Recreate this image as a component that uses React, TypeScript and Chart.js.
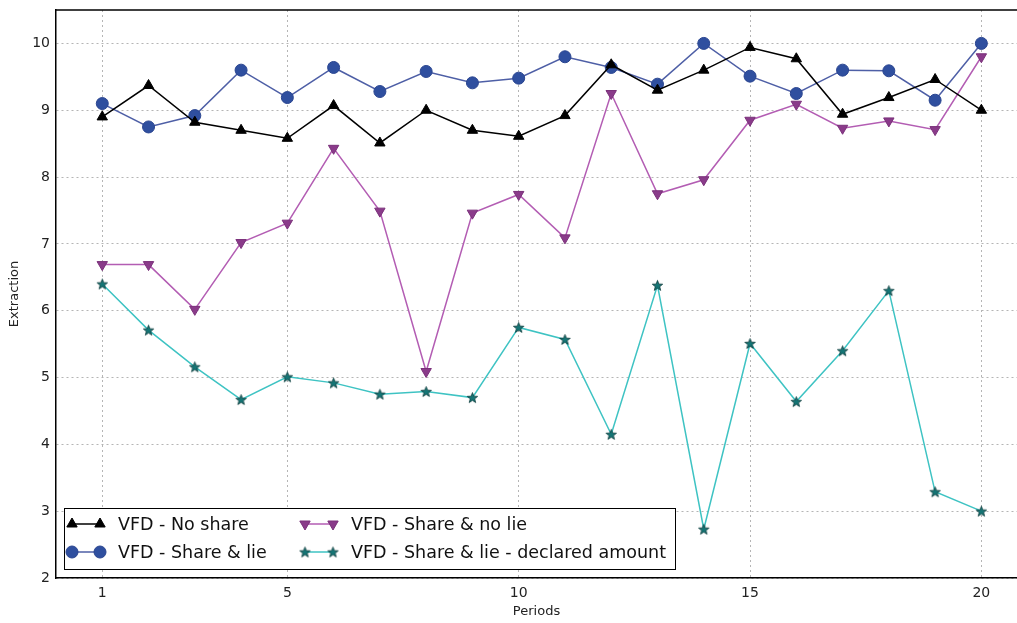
import React, { useEffect, useRef } from "react";
import { Chart, registerables } from "chart.js";
import { drawPoint } from "chart.js/helpers";

Chart.register(...registerables);

// Periods 1..20
const periods = [1, 2, 3, 4, 5, 6, 7, 8, 9, 10, 11, 12, 13, 14, 15, 16, 17, 18, 19, 20];

const noShare = [8.9, 9.37, 8.82, 8.7, 8.58, 9.07, 8.51, 9.0, 8.7, 8.61, 8.92, 9.68, 9.3, 9.6, 9.94, 9.77, 8.94, 9.19, 9.46, 9.0];
const shareLie = [9.1, 8.75, 8.92, 9.6, 9.19, 9.64, 9.28, 9.58, 9.41, 9.48, 9.8, 9.64, 9.39, 10.0, 9.51, 9.25, 9.6, 9.59, 9.15, 10.0];
const shareNoLie = [6.69, 6.69, 6.02, 7.02, 7.31, 8.43, 7.49, 5.09, 7.46, 7.74, 7.09, 9.25, 7.75, 7.96, 8.85, 9.09, 8.73, 8.84, 8.71, 9.8];
const declared = [6.4, 5.71, 5.16, 4.67, 5.01, 4.92, 4.75, 4.79, 4.7, 5.75, 5.57, 4.15, 6.38, 2.73, 5.51, 4.64, 5.4, 6.3, 3.29, 3.0];

const seriesLabels = [
  "VFD - No share",
  "VFD - Share & lie",
  "VFD - Share & no lie",
  "VFD - Share & lie - declared amount",
];

const xTicks = [1, 5, 10, 15, 20];
const yTicks = [2, 3, 4, 5, 6, 7, 8, 9, 10];

const FONT = "'DejaVu Sans', 'Liberation Sans', sans-serif";

// the plot runs on past the right edge of the visible frame
const VIEW_W = 1017;
const CANVAS_W = 1024;
const CANVAS_H = 623;

function makeStar(fill: string, edge: string): HTMLCanvasElement {
  const size = 13;
  const c = document.createElement("canvas");
  c.width = size;
  c.height = size;
  const g = c.getContext("2d")!;
  const cx = size / 2;
  const cy = size / 2 + 0.5;
  const outer = 5.5;
  const inner = 2.3;
  g.beginPath();
  for (let i = 0; i < 10; i++) {
    const r = i % 2 === 0 ? outer : inner;
    const a = -Math.PI / 2 + (i * Math.PI) / 5;
    const px = cx + r * Math.cos(a);
    const py = cy + r * Math.sin(a);
    if (i === 0) g.moveTo(px, py);
    else g.lineTo(px, py);
  }
  g.closePath();
  g.fillStyle = fill;
  g.fill();
  g.lineWidth = 0.8;
  g.strokeStyle = edge;
  g.stroke();
  return c;
}

const toPoints = (vals: number[]) => periods.map((p, i) => ({ x: p, y: vals[i] }));

const noEdgePadding = (scale: any) => {
  scale.paddingLeft = 0;
  scale.paddingRight = 0;
  scale.paddingTop = 0;
  scale.paddingBottom = 0;
};

export default function App() {
  const ref = useRef<HTMLCanvasElement | null>(null);

  useEffect(() => {
    document.body.style.margin = "0";
    const canvas = ref.current;
    if (!canvas) return;
    const star = makeStar("#157575", "#0a3a3a");

    const styles = [
      { line: "#000000", fill: "#000000", edge: "#000000", pointStyle: "triangle" as any, radius: 6, rotation: 0 },
      { line: "#4e5fa6", fill: "#2f4f9f", edge: "#2a4590", pointStyle: "circle" as any, radius: 6, rotation: 0 },
      { line: "#b35db3", fill: "#8a3b8a", edge: "#7a307a", pointStyle: "triangle" as any, radius: 6, rotation: 180 },
      { line: "#3ec3c3", fill: "#157575", edge: "#0a3a3a", pointStyle: star as any, radius: 6, rotation: 0 },
    ];
    const seriesValues = [noShare, shareLie, shareNoLie, declared];

    const frameAndLegend = {
      id: "frameAndLegend",
      afterDraw(chart: any) {
        const ctx = chart.ctx as CanvasRenderingContext2D;
        const ca = chart.chartArea;
        ctx.save();
        // top frame line
        ctx.strokeStyle = "#000";
        ctx.lineWidth = 1.5;
        ctx.beginPath();
        ctx.moveTo(ca.left, ca.top);
        ctx.lineTo(chart.width, ca.top);
        ctx.stroke();

        // legend box, two columns
        const bx = ca.left + 8;
        const by = ca.bottom - 70;
        const bw = 611;
        const bh = 61;
        ctx.fillStyle = "#fff";
        ctx.fillRect(bx, by, bw, bh);
        ctx.strokeStyle = "#000";
        ctx.lineWidth = 1;
        ctx.strokeRect(bx + 0.5, by + 0.5, bw, bh);

        const colX = [bx + 8, bx + 241];
        const rowY = [by + 16, by + 44];
        ctx.font = `17.5px ${FONT}`;
        ctx.textBaseline = "middle";
        chart.data.datasets.forEach((ds: any, i: number) => {
          const col = Math.floor(i / 2);
          const row = i % 2;
          const x0 = colX[col];
          const x1 = x0 + 28;
          const y = rowY[row];
          const st = styles[i];
          ctx.strokeStyle = st.line;
          ctx.lineWidth = 1.5;
          ctx.beginPath();
          ctx.moveTo(x0, y);
          ctx.lineTo(x1, y);
          ctx.stroke();
          ctx.fillStyle = st.fill;
          ctx.strokeStyle = st.edge;
          ctx.lineWidth = 1;
          for (const px of [x0, x1]) {
            drawPoint(ctx, { pointStyle: st.pointStyle, radius: st.radius, rotation: st.rotation, borderWidth: 1 } as any, px, y);
          }
          ctx.fillStyle = "#111";
          ctx.textAlign = "left";
          ctx.fillText(ds.label, x1 + 18, y + 1);
        });
        ctx.restore();
      },
    };

    const chart = new Chart(canvas, {
      type: "line",
      data: {
        datasets: seriesValues.map((vals, i) => ({
          label: seriesLabels[i],
          data: toPoints(vals),
          borderColor: styles[i].line,
          borderWidth: 1.5,
          backgroundColor: styles[i].fill,
          pointBackgroundColor: styles[i].fill,
          pointBorderColor: styles[i].edge,
          pointBorderWidth: 1,
          pointStyle: styles[i].pointStyle,
          pointRadius: styles[i].radius,
          pointRotation: styles[i].rotation,
          tension: 0,
          fill: false,
        })),
      },
      options: {
        responsive: false,
        animation: false,
        layout: { padding: { top: 10, left: 0, right: 0, bottom: 0 } },
        plugins: {
          legend: { display: false },
          tooltip: { enabled: false },
        },
        scales: {
          x: {
            type: "linear",
            min: 0,
            max: 20.77,
            afterBuildTicks: (scale: any) => {
              scale.ticks = xTicks.map((v) => ({ value: v }));
            },
            afterFit: (scale: any) => {
              scale.height = 45;
              noEdgePadding(scale);
            },
            grid: {
              color: "#b5b5b5",
              lineWidth: 1,
              drawTicks: false,
            },
            border: { color: "#000", width: 1.5, dash: [2, 3] } as any,
            ticks: {
              padding: 7,
              color: "#222",
              font: { family: FONT, size: 14 },
              maxRotation: 0,
              callback: (v: any) => String(v),
            },
            title: {
              display: true,
              text: "Periods",
              color: "#222",
              font: { family: FONT, size: 13 },
              padding: { top: 0, bottom: 4 },
            },
          },
          y: {
            type: "linear",
            min: 2,
            max: 10.5,
            afterBuildTicks: (scale: any) => {
              scale.ticks = yTicks.map((v) => ({ value: v }));
            },
            afterFit: (scale: any) => {
              scale.width = 56;
              noEdgePadding(scale);
            },
            grid: {
              color: "#b5b5b5",
              lineWidth: 1,
              drawTicks: false,
            },
            border: { color: "#000", width: 1.5, dash: [2, 3] } as any,
            ticks: {
              padding: 6,
              color: "#222",
              font: { family: FONT, size: 14 },
              callback: (v: any) => String(v),
            },
            title: {
              display: true,
              text: "Extraction",
              color: "#222",
              font: { family: FONT, size: 13 },
              padding: { top: 7, bottom: 0 },
            },
          },
        },
      },
      plugins: [frameAndLegend],
    });

    return () => chart.destroy();
  }, []);

  return (
    <div
      style={{
        position: "absolute",
        left: 0,
        top: 0,
        width: VIEW_W,
        height: CANVAS_H,
        overflow: "hidden",
        background: "#fff",
      }}
    >
      <canvas
        ref={ref}
        width={CANVAS_W}
        height={CANVAS_H}
        style={{ display: "block", width: CANVAS_W, height: CANVAS_H }}
      />
    </div>
  );
}
